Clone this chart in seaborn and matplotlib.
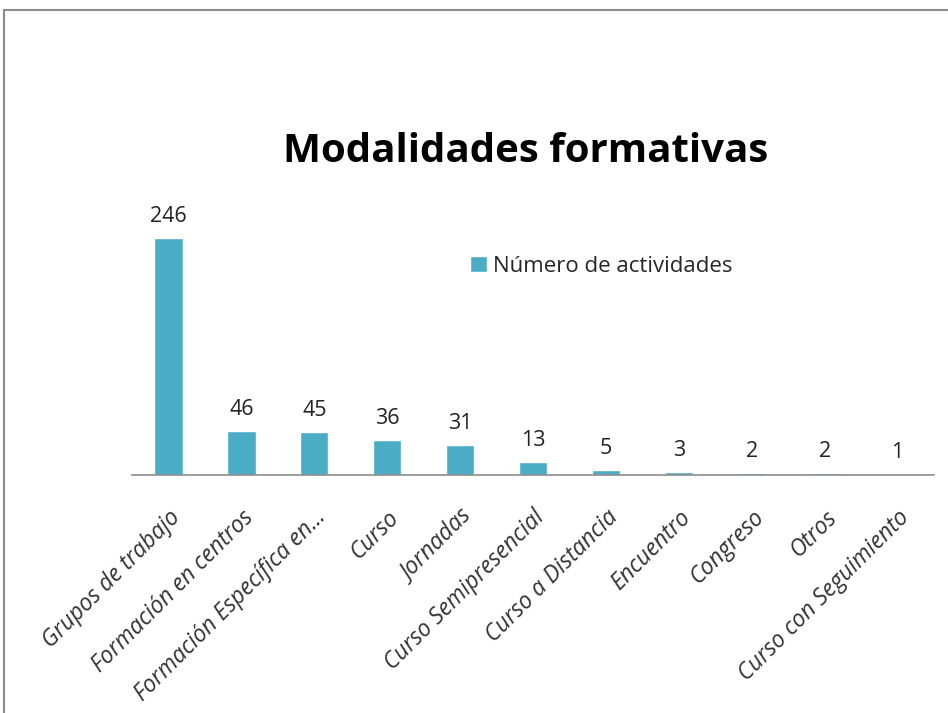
import pandas as pd
import numpy as np
import seaborn as sns
import matplotlib.pyplot as plt
from matplotlib.patches import Rectangle

# datos del grafico
categorias = ['Grupos de trabajo', 'Formación en centros', 'Formación Específica en...',
              'Curso', 'Jornadas', 'Curso Semipresencial', 'Curso a Distancia',
              'Encuentro', 'Congreso', 'Otros', 'Curso con Seguimiento']
actividades = [246, 46, 45, 36, 31, 13, 5, 3, 2, 2, 1]
serie = 'Número de actividades'

df = pd.DataFrame({'modalidad': categorias, 'n': actividades})

sns.set_style('white')
plt.rcParams['font.family'] = ['Open Sans', 'DejaVu Sans']

fig = plt.figure(figsize=(9.48, 7.13), dpi=100)
ax = fig.add_axes([132/948, 1-475/713, (934-132)/948, (475-186)/713])

sns.barplot(data=df, x='modalidad', y='n', color='#4BACC6', width=0.39,
            saturation=1, ax=ax, label=serie)
ax.set_ylim(0, 300)
ax.set_xlim(-0.5, len(categorias)-0.5)

for c in ax.containers:
    ax.bar_label(c, padding=8, fontsize=15.5, color='#222222')

ax.set_xlabel('')
ax.set_ylabel('')
ax.set_yticks([])
ax.tick_params(axis='x', length=0, pad=22)
ax.set_xticks(range(len(categorias)))
ax.set_xticklabels(categorias, rotation=45, ha='right', rotation_mode='anchor',
                   fontsize=16.5, style='italic', color='#333333')
for s in ['top', 'right', 'left']:
    ax.spines[s].set_visible(False)
ax.spines['bottom'].set_color('#8c8c8c')
ax.spines['bottom'].set_linewidth(1.2)

leg = ax.legend(loc='upper left', bbox_to_anchor=(450/948, 1-236/713),
                bbox_transform=fig.transFigure, frameon=False, fontsize=16,
                handlelength=0.75, handleheight=0.75, handletextpad=0.3)

fig.text(526/948, 1-152/713, 'Modalidades formativas', ha='center', va='center',
         fontsize=29, fontweight='bold', color='black')

fig.patches.append(Rectangle((4/948, -0.1), 1.5, 1.1 - 10/713, transform=fig.transFigure,
                             fill=False, edgecolor='#8c8c8c', linewidth=1.5))

plt.savefig('out.png', dpi=100)
